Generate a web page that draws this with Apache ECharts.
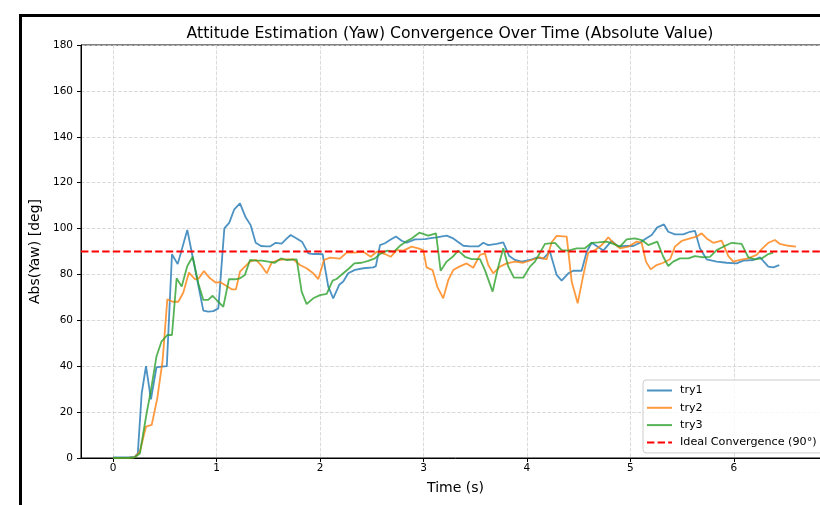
<!DOCTYPE html>
<html>
<head>
<meta charset="utf-8">
<script src="https://cdn.jsdelivr.net/npm/echarts@6/dist/echarts.min.js"></script>
<style>
html,body{margin:0;padding:0;background:#fff;overflow:hidden;width:820px;height:505px;}
#chart{position:absolute;left:0;top:0;width:900px;height:560px;}
</style>
</head>
<body>
<div id="chart"></div>
<script>
// ---- data ----
const xTicks = [0, 1, 2, 3, 4, 5, 6];
const yTicks = [0, 20, 40, 60, 80, 100, 120, 140, 160, 180];
const xMin = -0.309, xMax = 6.928;
const idealValue = 90;

const t1 = [0,0.05,0.1,0.15,0.21,0.24,0.277,0.319,0.367,0.42,0.47,0.52,0.57,0.625,0.718,0.776,0.873,0.92,0.97,1.018,1.076,1.124,1.172,1.227,1.282,1.33,1.379,1.43,1.48,1.517,1.572,1.63,1.675,1.717,1.775,1.829,1.887,1.935,1.98,2.026,2.08,2.128,2.186,2.225,2.273,2.338,2.419,2.515,2.54,2.58,2.628,2.676,2.734,2.789,2.838,2.918,3.014,3.07,3.127,3.224,3.288,3.385,3.449,3.53,3.578,3.626,3.707,3.771,3.829,3.884,3.949,4.029,4.094,4.157,4.222,4.287,4.335,4.40,4.447,4.528,4.577,4.625,4.673,4.737,4.818,4.882,4.947,5.027,5.092,5.15,5.205,5.259,5.324,5.365,5.43,5.51,5.575,5.623,5.671,5.736,5.833,5.929,6.026,6.09,6.187,6.251,6.332,6.38,6.438];
const y1 = [0.3,0.3,0.3,0.3,0.5,2,28,40,25.6,39.5,39.8,40,88.8,84.5,99.4,86.3,64.2,63.8,64,65.2,100.1,102.6,108.4,111,104.9,101.5,93.8,92.4,92.2,92.2,93.8,93.4,95.5,97.2,95.7,94.1,89.2,88.9,88.9,88.8,74.7,69.6,75.5,76.9,80.5,82,82.7,83.1,83.6,92.8,93.6,95,96.5,94.7,93.8,95.3,95.4,95.8,96.2,96.9,95.7,92.5,92.2,92.2,93.8,92.8,93.3,94,88,86.3,85.6,86.3,87.3,86.9,89.9,79.8,77.3,80.5,81.6,81.6,89.9,93.8,92.4,90.4,94.6,92.1,92.4,92.4,93.8,95.7,97.2,100.5,101.8,98.6,97.5,97.5,98.6,99,91.4,86.6,85.6,85.1,84.8,86,86.3,87.5,83.4,83.1,84.1];

const t2 = [0,0.05,0.1,0.15,0.21,0.26,0.319,0.374,0.428,0.48,0.525,0.577,0.631,0.679,0.734,0.792,0.83,0.879,0.937,0.995,1.034,1.098,1.147,1.188,1.227,1.282,1.324,1.382,1.437,1.485,1.533,1.597,1.662,1.742,1.807,1.87,1.935,1.984,2.039,2.097,2.193,2.258,2.338,2.419,2.49,2.548,2.628,2.683,2.741,2.805,2.886,2.95,2.998,3.03,3.088,3.133,3.191,3.24,3.288,3.346,3.417,3.481,3.546,3.594,3.626,3.674,3.739,3.804,3.884,3.964,4.045,4.119,4.19,4.239,4.287,4.384,4.432,4.49,4.538,4.592,4.657,4.722,4.786,4.834,4.899,4.979,5.06,5.108,5.15,5.195,5.253,5.317,5.382,5.43,5.495,5.575,5.64,5.688,5.736,5.80,5.881,5.946,5.993,6.058,6.138,6.219,6.268,6.332,6.396,6.444,6.524,6.599];
const y2 = [0,0,0,0,0.3,2.8,13.7,14.4,26,42.7,69.2,68.1,68.1,72,80.8,77.9,78.3,81.5,78.3,76.4,76.7,75,73.5,73.5,81.2,83.7,85.6,86.3,83.7,80.5,85.1,86.3,86.6,86.6,84.1,82.7,80.5,78,86.3,87.3,86.9,89.5,89.5,89.9,87.7,89.9,88.9,87.7,90.6,90.4,92.1,91.4,90.6,83.1,81.9,74.7,69.6,77.6,81.9,83.4,84.8,82.9,88.5,89.2,84.1,80.5,83.4,84.8,85.6,85.1,86.3,87.5,86.6,94,96.8,96.5,76.9,67.4,78.3,89.5,90.6,92.8,96.2,93.8,91.4,92.1,94.3,93.8,85.6,82.2,84.1,85.1,86.6,92.1,94.6,95.7,96.5,97.9,95.7,93.8,94.7,88,85.6,86.3,87,88.5,91,93.8,95,93.3,92.5,92.1];

const t3 = [0,0.05,0.1,0.15,0.21,0.26,0.325,0.367,0.42,0.468,0.525,0.57,0.615,0.664,0.718,0.77,0.825,0.873,0.92,0.963,1.018,1.066,1.121,1.18,1.227,1.275,1.324,1.38,1.437,1.50,1.565,1.623,1.675,1.775,1.823,1.871,1.935,2.0,2.065,2.122,2.16,2.225,2.283,2.332,2.403,2.467,2.531,2.58,2.65,2.715,2.773,2.831,2.886,2.96,3.046,3.121,3.166,3.224,3.282,3.336,3.401,3.466,3.546,3.594,3.668,3.723,3.771,3.82,3.874,3.964,4.029,4.077,4.119,4.174,4.271,4.335,4.40,4.48,4.56,4.625,4.69,4.77,4.834,4.899,4.963,5.043,5.108,5.172,5.259,5.317,5.365,5.413,5.478,5.559,5.623,5.688,5.768,5.833,5.897,5.978,6.074,6.138,6.203,6.268,6.332,6.38];
const y3 = [0,0,0,0,0.3,2,19.5,29.6,44.2,50.7,53.6,53.6,78.3,74.7,83.7,87.7,76.1,68.9,68.9,70.7,68.1,65.9,78,77.9,78.3,79.8,86.3,86,86,85.6,85.1,87,86.3,86.6,72.5,67.1,69.6,71,71.5,77.3,78,80.5,82.7,84.8,85.1,85.9,87,88.9,90.4,89.9,92.5,94.3,95.7,98.2,96.9,97.9,81.6,85.6,87.7,90.4,87.7,86.7,86.7,81.9,72.5,83.4,91.4,83.4,78.6,78.6,83.4,85.6,88.9,93.3,93.8,90.6,90.4,91.4,91.4,93.8,94,94.3,93.3,92.1,95.3,95.7,95,92.8,94.3,87.7,83.7,85.6,87,87,88,87.5,87.7,90.6,92.1,93.8,93.3,87.5,86.6,87,88.9,89.5];

const seriesNames = ['try1', 'try2', 'try3', 'Ideal Convergence (90°)'];
const seriesColors = ['#1f77b4', '#ff7f0e', '#2ca02c', '#ff0000'];

function pairs(t, y) { return t.map((v, i) => [v, y[i]]); }

const chart = echarts.init(document.getElementById('chart'), null, {renderer: 'canvas'});
const FONT = 'DejaVu Sans';
const tryData = [pairs(t1, y1), pairs(t2, y2), pairs(t3, y3)];

const series = tryData.map((d, i) => ({
  name: seriesNames[i],
  type: 'line',
  data: d,
  showSymbol: false,
  symbol: 'none',
  animation: false,
  lineStyle: {color: seriesColors[i], width: 1.8, opacity: 0.8},
  itemStyle: {color: seriesColors[i]},
  z: 3
}));
series.push({
  name: seriesNames[3],
  type: 'line',
  data: [[xMin, idealValue], [xMax, idealValue]],
  showSymbol: false,
  symbol: 'none',
  animation: false,
  lineStyle: {color: seriesColors[3], width: 2.2, type: [7.4, 3.2]},
  itemStyle: {color: seriesColors[3]},
  z: 4
});

const option = {
  backgroundColor: '#fff',
  animation: false,
  title: {
    text: 'Attitude Estimation (Yaw) Convergence Over Time (Absolute Value)',
    left: 'center',
    top: 21,
    textStyle: {fontFamily: FONT, fontSize: 15.7, fontWeight: 'normal', color: '#000'}
  },
  grid: {
    left: 81, top: 45, width: 749, height: 413,
    show: true, borderColor: '#000', borderWidth: 1, backgroundColor: 'transparent'
  },
  legend: {
    orient: 'vertical',
    left: 643, top: 380,
    data: seriesNames,
    itemWidth: 25, itemHeight: 12,
    itemGap: 6.3,
    padding: [5, 8, 5, 3],
    backgroundColor: 'rgba(255,255,255,0.8)',
    borderColor: '#cccccc', borderWidth: 1, borderRadius: 3,
    itemStyle: {opacity: 0},
    textStyle: {fontFamily: FONT, fontSize: 11.2, color: '#000', padding: [0, 0, 0, 3]}
  },
  xAxis: {
    type: 'value',
    min: xMin, max: xMax,
    name: 'Time (s)',
    nameLocation: 'middle',
    nameGap: 23,
    nameTextStyle: {fontFamily: FONT, fontSize: 14, color: '#000'},
    axisLine: {show: true, onZero: false, lineStyle: {color: '#000', width: 1}},
    axisTick: {show: true, length: 4, lineStyle: {color: '#000'}, customValues: xTicks},
    axisLabel: {customValues: xTicks, fontFamily: FONT, fontSize: 10.5, color: '#000', margin: 5},
    splitLine: {show: true, lineStyle: {color: '#d0d0d0', width: 0.8, type: [3.7, 1.6]}}
  },
  yAxis: {
    type: 'value',
    min: yTicks[0], max: yTicks[yTicks.length - 1], interval: 20,
    name: 'Abs(Yaw) [deg]',
    nameLocation: 'middle',
    nameGap: 33,
    nameTextStyle: {fontFamily: FONT, fontSize: 14, color: '#000'},
    axisLine: {show: true, onZero: false, lineStyle: {color: '#000', width: 1}},
    axisTick: {show: true, length: 4, lineStyle: {color: '#000'}},
    axisLabel: {fontFamily: FONT, fontSize: 10.5, color: '#000', margin: 8},
    splitLine: {show: true, lineStyle: {color: '#d0d0d0', width: 0.8, type: [3.7, 1.6]}}
  },
  graphic: [{
    type: 'rect',
    shape: {x: 20.5, y: 15.5, width: 1000, height: 1000},
    style: {fill: 'none', stroke: '#000', lineWidth: 3},
    z: 100, silent: true
  }],
  series: series
};
chart.setOption(option);
</script>
</body>
</html>
